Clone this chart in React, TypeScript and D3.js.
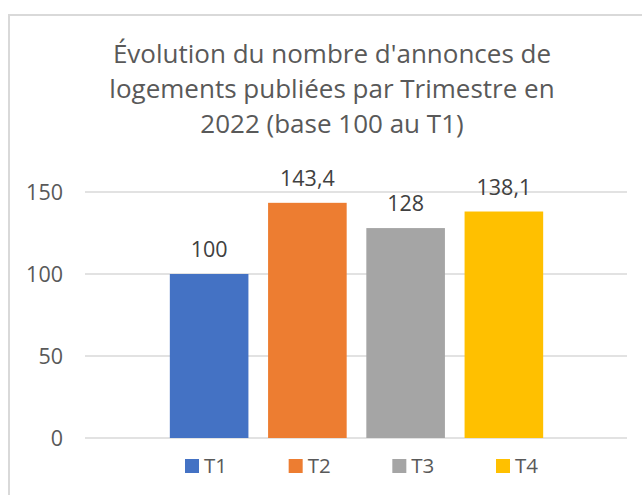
import React from "react";
import * as d3 from "d3";

const categories = ["T1", "T2", "T3", "T4"];
const values = [100, 143.4, 128, 138.1];
const valueLabels = ["100", "143,4", "128", "138,1"];
const colors = ["#4472C4", "#ED7D31", "#A5A5A5", "#FFC000"];
const yTicks = [0, 50, 100, 150];
const titleLines = [
  "Évolution du nombre d'annonces de",
  "logements publiées par Trimestre en",
  "2022 (base 100 au T1)",
];

const W = 642;
const H = 495;
const FONT = "'Open Sans', 'Noto Sans', sans-serif";

export default function App() {
  const x = d3
    .scaleBand<string>()
    .domain(categories)
    .range([160, 553])
    .paddingInner(0.2)
    .paddingOuter(0.1);
  const y = d3.scaleLinear().domain([0, 150]).range([438, 192]);
  const legendX = d3.scalePoint<string>().domain(categories).range([185, 496]);

  return (
    <svg
      width={W}
      height={H}
      style={{ position: "absolute", left: 0, top: 0, background: "#fff" }}
      fontFamily={FONT}
    >
      <rect x={0} y={0} width={W} height={H} fill="#fff" />
      <rect x={9} y={15} width={800} height={700} fill="none" stroke="#d9d9d9" strokeWidth={2} />
      {titleLines.map((t, i) => (
        <text
          key={i}
          x={332}
          y={63 + i * 35}
          textAnchor="middle"
          fontSize={26}
          fill="#595959"
        >
          {t}
        </text>
      ))}
      {yTicks.map((t) => (
        <g key={t}>
          <line x1={85} x2={627} y1={y(t)} y2={y(t)} stroke="#d9d9d9" strokeWidth={1.5} />
          <text x={63} y={y(t)} dy="0.35em" textAnchor="end" fontSize={21.5} fill="#595959">
            {t}
          </text>
        </g>
      ))}
      {categories.map((c, i) => (
        <g key={c}>
          <rect
            x={x(c)}
            y={y(values[i])}
            width={x.bandwidth()}
            height={y(0) - y(values[i])}
            fill={colors[i]}
          />
          <text
            x={(x(c) as number) + x.bandwidth() / 2}
            y={y(values[i]) - 17}
            textAnchor="middle"
            fontSize={21.5}
            fill="#404040"
          >
            {valueLabels[i]}
          </text>
        </g>
      ))}
      {categories.map((c, i) => (
        <g key={"lg" + c} transform={`translate(${legendX(c)},459)`}>
          <rect x={0} y={0} width={14} height={14} fill={colors[i]} />
          <text x={19} y={14} fontSize={20.5} fill="#595959">
            {c}
          </text>
        </g>
      ))}
    </svg>
  );
}
